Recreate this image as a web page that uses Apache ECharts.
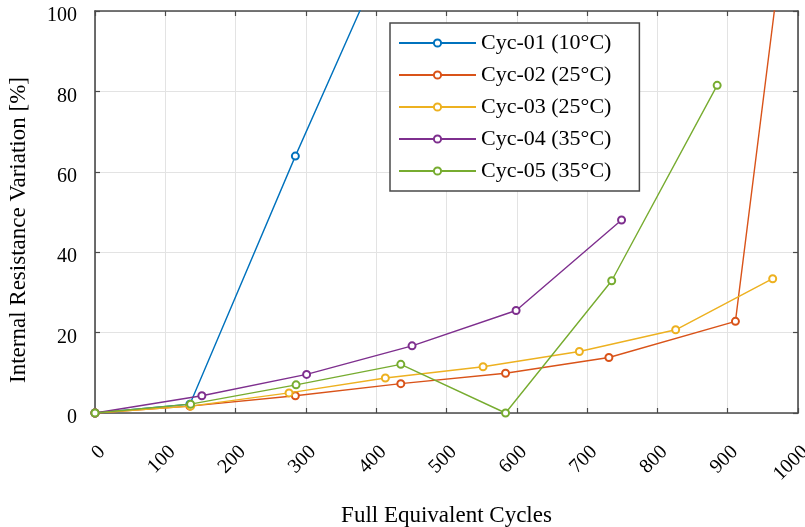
<!DOCTYPE html>
<html>
<head>
<meta charset="utf-8">
<title>Internal Resistance Variation</title>
<script src="https://cdn.jsdelivr.net/npm/echarts@6/dist/echarts.min.js"></script>
<style>
  html, body { margin: 0; padding: 0; background: #ffffff; }
  #chart { width: 805px; height: 527px; }
</style>
</head>
<body>
<div id="chart"></div>
<script>
// Cycling test results: resistance growth per test cell
const seriesNames = ['Cyc-01 (10°C)', 'Cyc-02 (25°C)', 'Cyc-03 (25°C)', 'Cyc-04 (35°C)', 'Cyc-05 (35°C)'];

const cyc01Cycles = [0, 135, 285, 430];
const cyc01Values = [0, 2.2, 63.9, 121];

const cyc02Cycles = [0, 135, 285, 435, 584, 731, 911, 990];
const cyc02Values = [0, 1.7, 4.3, 7.3, 9.9, 13.8, 22.8, 133];

const cyc03Cycles = [0, 136, 276, 413, 552, 689, 826, 964];
const cyc03Values = [0, 1.7, 5.0, 8.7, 11.5, 15.3, 20.7, 33.4];

const cyc04Cycles = [0, 152, 301, 451, 599, 749];
const cyc04Values = [0, 4.3, 9.6, 16.7, 25.5, 48.0];

const cyc05Cycles = [0, 136, 286, 435, 584, 735, 885];
const cyc05Values = [0, 2.2, 7.0, 12.1, 0, 32.9, 81.5];

const xTicks = { min: 0, max: 1000, interval: 100 };
const yTicks = { min: 0, max: 100, interval: 20 };

const colors = ['#0072BD', '#D95319', '#EDB120', '#7E2F8E', '#77AC30'];

const FONT = 'Liberation Serif';
const AXIS_COLOR = '#4a4a4a';
const GRID_COLOR = '#e3e3e3';

function pairs(xs, ys) {
  return xs.map((x, i) => [x, ys[i]]);
}

const allCycles = [cyc01Cycles, cyc02Cycles, cyc03Cycles, cyc04Cycles, cyc05Cycles];
const allValues = [cyc01Values, cyc02Values, cyc03Values, cyc04Values, cyc05Values];

const series = seriesNames.map((name, i) => ({
  name: name,
  type: 'line',
  xAxisIndex: 0,
  yAxisIndex: 0,
  data: pairs(allCycles[i], allValues[i]),
  symbol: 'emptyCircle',
  symbolSize: 7,
  showAllSymbol: true,
  clip: true,
  lineStyle: { width: 1.4, color: colors[i] },
  itemStyle: { color: colors[i], borderColor: colors[i], borderWidth: 1.2 },
  emphasis: { disabled: true },
  z: 3 + i
}));

function frameAxis(pos, ticks, extra) {
  return Object.assign({
    type: 'value',
    position: pos,
    min: ticks.min,
    max: ticks.max,
    interval: ticks.interval,
    axisLine: { show: true, onZero: false, lineStyle: { color: AXIS_COLOR, width: 1.6 } },
    axisTick: { show: true, inside: true, length: 5, lineStyle: { color: AXIS_COLOR, width: 1.2 } },
    splitLine: { show: false },
    axisLabel: { show: false }
  }, extra || {});
}

const chart = echarts.init(document.getElementById('chart'), null, { renderer: 'canvas' });

chart.setOption({
  animation: false,
  backgroundColor: '#ffffff',
  color: colors,
  grid: { left: 95, right: 7, top: 11, bottom: 114, containLabel: false, outerBoundsMode: 'none' },
  legend: {
    data: seriesNames,
    orient: 'vertical',
    left: 390,
    top: 23,
    itemWidth: 77,
    itemHeight: 9,
    itemGap: 10,
    padding: [9, 28, 9, 8],
    backgroundColor: '#ffffff',
    borderColor: AXIS_COLOR,
    borderWidth: 1.5,
    borderRadius: 0,
    selectedMode: false,
    textStyle: { fontFamily: FONT, fontSize: 22, color: '#000000', lineHeight: 22 }
  },
  xAxis: [
    frameAxis('bottom', xTicks, {
      name: 'Full Equivalent Cycles',
      nameLocation: 'middle',
      nameGap: 91,
      nameTextStyle: { fontFamily: FONT, fontSize: 23, color: '#000000' },
      splitLine: { show: true, lineStyle: { color: GRID_COLOR, width: 1 } },
      axisLabel: {
        show: true,
        rotate: 45,
        margin: 29,
        verticalAlign: 'top',
        fontFamily: FONT,
        fontSize: 20,
        color: '#000000',
        showMaxLabel: true,
        showMinLabel: true,
        formatter: (v) => String(v)
      }
    }),
    frameAxis('top', xTicks)
  ],
  yAxis: [
    frameAxis('left', yTicks, {
      name: 'Internal Resistance Variation [%]',
      nameLocation: 'middle',
      nameGap: 65,
      nameRotate: 90,
      nameTextStyle: { fontFamily: FONT, fontSize: 23, color: '#000000', padding: [0, 36, 0, 0] },
      splitLine: { show: true, lineStyle: { color: GRID_COLOR, width: 1 } },
      axisLabel: {
        show: true,
        margin: 18,
        verticalAlign: 'top',
        lineHeight: 10,
        fontFamily: FONT,
        fontSize: 20,
        color: '#000000',
        showMaxLabel: true,
        showMinLabel: true,
        formatter: (v) => String(v)
      }
    }),
    frameAxis('right', yTicks)
  ],
  series: series
});
</script>
</body>
</html>
